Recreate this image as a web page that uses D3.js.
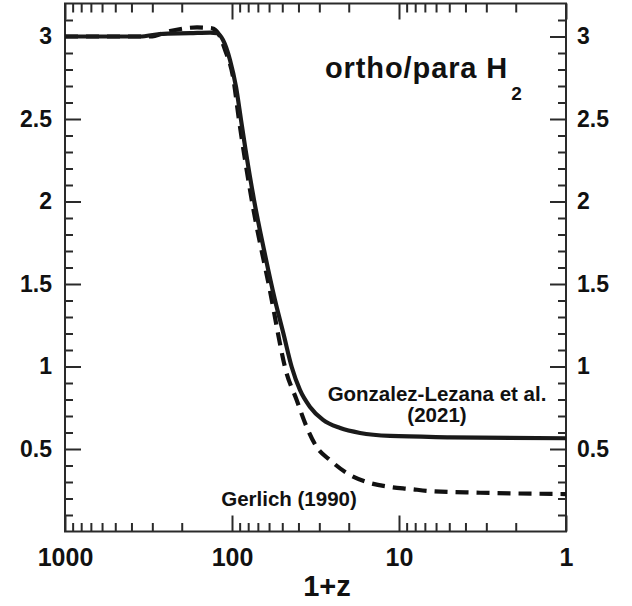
<!DOCTYPE html>
<html>
<head>
<meta charset="utf-8">
<script src="https://cdn.jsdelivr.net/npm/d3@7"></script>
<style>
  html, body { margin: 0; padding: 0; background: #fff; }
  svg { display: block; }
  text { font-family: "Liberation Sans", Arial, Helvetica, sans-serif; font-weight: bold; fill: #111; }
</style>
</head>
<body>
<svg id="chart" width="632" height="606"></svg>
<script>
// ---- data ----
const zSolid = [1000, 356, 270, 178, 135, 123, 113.2, 102.8, 94.6, 88.3, 82.9, 73.8, 64.3, 55.3, 49.3, 43.9, 39.2, 34.1, 28.5, 22.5, 17.1, 11.3, 4.95, 1];
const vSolid = [3.0, 3.0, 3.015, 3.02, 3.024, 3.02, 2.979, 2.858, 2.694, 2.494, 2.312, 2.009, 1.706, 1.403, 1.203, 0.997, 0.858, 0.755, 0.676, 0.627, 0.597, 0.579, 0.571, 0.565];
const zDashed = [1000, 310, 235, 162, 132, 121, 110, 98.6, 90.8, 76.2, 57.8, 53.1, 48.2, 41.0, 35.7, 31.1, 25.9, 20.6, 15.6, 11.3, 8.6, 6.52, 3.27, 1];
const vDashed = [3.0, 3.0, 3.033, 3.055, 3.05, 3.02, 2.918, 2.755, 2.494, 2.009, 1.403, 1.203, 0.997, 0.797, 0.633, 0.512, 0.433, 0.355, 0.3, 0.27, 0.258, 0.245, 0.235, 0.227];
const xMajorTicks = [1000, 100, 10, 1];
const xTickLabels = ["1000", "100", "10", "1"];
const yMajorTicks = [0.5, 1, 1.5, 2, 2.5, 3];
const yTickLabels = ["0.5", "1", "1.5", "2", "2.5", "3"];
const seriesLabels = ["Gonzalez-Lezana et al.", "(2021)", "Gerlich (1990)"];
const titleText = "ortho/para H";
const titleSub = "2";
const xTitle = "1+z";

// ---- layout ----
const L = 65, R = 566, T = 3.5, B = 531.5;
const svg = d3.select("#chart");
const x = d3.scaleLog().domain([1000, 1]).range([L, R]);
const y = d3.scaleLinear().domain([0, 3.2]).range([B, T]);

// minor ticks
const xMinor = [];
[100, 10, 1].forEach(d => { for (let k = 2; k <= 9; k++) xMinor.push(d * k); });
const yMinor = d3.range(1, 32).map(i => i / 10).filter(v => Math.abs(v * 2 - Math.round(v * 2)) > 1e-6);

const ink = "#2a2a2a";
function styleAxis(g) {
  g.select(".domain").remove();
  g.selectAll(".tick line").attr("stroke", ink).attr("stroke-width", 2);
  g.selectAll(".tick text").attr("font-family", "Liberation Sans, Arial, sans-serif").attr("font-weight", "bold").attr("fill", "#111");
}
// bottom
svg.append("g").attr("transform", `translate(0,${B})`)
  .call(d3.axisBottom(x).tickValues(xMinor).tickSize(-8.5).tickFormat("")).call(styleAxis);
svg.append("g").attr("transform", `translate(0,${B})`)
  .call(d3.axisBottom(x).tickValues(xMajorTicks).tickSize(-16).tickPadding(17)
    .tickFormat((d, i) => xTickLabels[i])).call(styleAxis)
  .selectAll(".tick text").attr("font-size", 25);
// top
svg.append("g").attr("transform", `translate(0,${T})`)
  .call(d3.axisTop(x).tickValues(xMinor).tickSize(-9).tickFormat("")).call(styleAxis);
svg.append("g").attr("transform", `translate(0,${T})`)
  .call(d3.axisTop(x).tickValues(xMajorTicks).tickSize(-16).tickFormat("")).call(styleAxis);
// left
svg.append("g").attr("transform", `translate(${L},0)`)
  .call(d3.axisLeft(y).tickValues(yMinor).tickSize(-8).tickFormat("")).call(styleAxis);
svg.append("g").attr("transform", `translate(${L},0)`)
  .call(d3.axisLeft(y).tickValues(yMajorTicks).tickSize(-16).tickPadding(13)
    .tickFormat((d, i) => yTickLabels[i])).call(styleAxis)
  .selectAll(".tick text").attr("font-size", 23);
// right
svg.append("g").attr("transform", `translate(${R},0)`)
  .call(d3.axisRight(y).tickValues(yMinor).tickSize(-8).tickFormat("")).call(styleAxis);
svg.append("g").attr("transform", `translate(${R},0)`)
  .call(d3.axisRight(y).tickValues(yMajorTicks).tickSize(-16).tickPadding(11)
    .tickFormat((d, i) => yTickLabels[i])).call(styleAxis)
  .selectAll(".tick text").attr("font-size", 23);

// frame
svg.append("rect").attr("x", L).attr("y", T).attr("width", R - L).attr("height", B - T)
  .attr("fill", "none").attr("stroke", ink).attr("stroke-width", 2);

// curves
const line = d3.line().x(d => x(d[0])).y(d => y(d[1])).curve(d3.curveMonotoneX);
svg.append("path").datum(zDashed.map((z, i) => [z, vDashed[i]]))
  .attr("d", line).attr("fill", "none").attr("stroke", "#111").attr("stroke-width", 4.2)
  .attr("stroke-dasharray", "13,8");
svg.append("path").datum(zSolid.map((z, i) => [z, vSolid[i]]))
  .attr("d", line).attr("fill", "none").attr("stroke", "#1a1a1a").attr("stroke-width", 4.2);

// title
const t = svg.append("text").attr("x", 325).attr("y", 78).attr("font-size", 29).attr("letter-spacing", 0.9);
t.append("tspan").text(titleText);
t.append("tspan").attr("font-size", 19).attr("dy", 22).attr("dx", 3).text(titleSub);

// annotations
svg.append("text").attr("x", 437).attr("y", 401).attr("text-anchor", "middle").attr("font-size", 20.5).text(seriesLabels[0]);
svg.append("text").attr("x", 437).attr("y", 422).attr("text-anchor", "middle").attr("font-size", 20.5).text(seriesLabels[1]);
svg.append("text").attr("x", 289).attr("y", 506).attr("text-anchor", "middle").attr("font-size", 20.5).text(seriesLabels[2]);

// x title
svg.append("text").attr("x", 327).attr("y", 596).attr("text-anchor", "middle").attr("font-size", 29).text(xTitle);
</script>
</body>
</html>
